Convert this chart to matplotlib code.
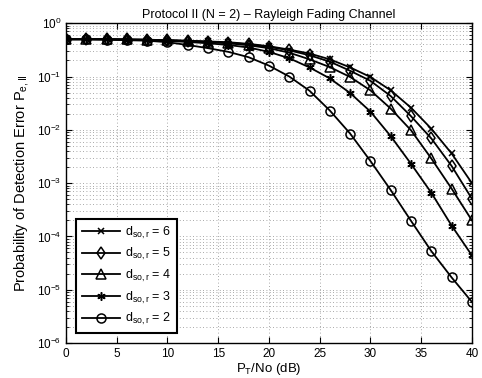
import numpy as np
import matplotlib
matplotlib.use('Agg')
import matplotlib.pyplot as plt
from matplotlib.ticker import LogLocator, NullFormatter

plt.rcParams['font.family'] = ['Liberation Sans', 'DejaVu Sans']
plt.rcParams['mathtext.fontset'] = 'custom'
plt.rcParams['mathtext.rm'] = 'Liberation Sans'
plt.rcParams['mathtext.it'] = 'Liberation Sans'

snr_db = np.arange(0, 41, 2)

pe_d6 = [0.5, 0.5, 0.5, 0.495, 0.49, 0.48, 0.47, 0.455, 0.44, 0.41, 0.37,
         0.32, 0.27, 0.21, 0.148, 0.098, 0.055, 0.026, 0.0105, 0.0036, 0.001]
pe_d5 = [0.5, 0.5, 0.5, 0.495, 0.49, 0.48, 0.465, 0.45, 0.43, 0.40, 0.36,
         0.31, 0.25, 0.19, 0.128, 0.083, 0.043, 0.018, 0.0069, 0.0021, 0.00051]
pe_d4 = [0.5, 0.5, 0.5, 0.495, 0.49, 0.475, 0.46, 0.44, 0.42, 0.385, 0.34,
         0.28, 0.21, 0.15, 0.098, 0.055, 0.025, 0.0098, 0.0029, 0.00079, 0.0002]
pe_d3 = [0.5, 0.5, 0.5, 0.49, 0.48, 0.465, 0.445, 0.42, 0.39, 0.35, 0.29,
         0.22, 0.148, 0.092, 0.049, 0.022, 0.0076, 0.0023, 0.00066, 0.00016, 4.4e-5]
pe_d2 = [0.5, 0.5, 0.49, 0.48, 0.47, 0.44, 0.39, 0.34, 0.29, 0.23, 0.16,
         0.10, 0.054, 0.023, 0.0085, 0.0026, 7.4e-4, 1.96e-4, 5.3e-5, 1.7e-5, 5.9e-6]

# (values, marker, marker size, distance label)
curves = [(pe_d6, 'x', 5, '6'), (pe_d5, 'd', 6, '5'), (pe_d4, '^', 7, '4'),
          (pe_d3, (6, 2, 0), 6, '3'), (pe_d2, 'o', 6.5, '2')]

fig = plt.figure(figsize=(4.82, 3.78), dpi=100)
ax = fig.add_axes([0.137, 0.0926, 0.842, 0.846])

for pe, mk, ms, d in curves:
    ax.semilogy(snr_db, pe, '-', color='k', marker=mk, markersize=ms,
                markerfacecolor='none', markeredgecolor='k', markeredgewidth=1.1,
                linewidth=1.3, label=r'd$_{\rm so,r}$ = ' + d)

ax.set_xlim(0, 40)
ax.set_ylim(1e-6, 1)
ax.set_xticks(np.arange(0, 41, 5))
ax.yaxis.set_major_locator(LogLocator(base=10, numticks=10))
ax.yaxis.set_minor_locator(LogLocator(base=10, subs=np.arange(2, 10), numticks=20))
ax.yaxis.set_minor_formatter(NullFormatter())
ax.grid(True, which='major', linestyle=(0, (1, 3)), color='0.55', linewidth=0.6)
ax.grid(True, which='minor', axis='y', linestyle=(0, (1, 3)), color='0.55', linewidth=0.6)
ax.tick_params(direction='in', which='both', top=True, right=True, labelsize=8.5)
ax.tick_params(which='major', length=4)
ax.tick_params(which='minor', length=2)
ax.xaxis.get_offset_text().set_visible(False)
ax.yaxis.get_offset_text().set_visible(False)
for s in ax.spines.values():
    s.set_linewidth(1.0)

ax.set_title('Protocol II (N = 2) \u2013 Rayleigh Fading Channel', fontsize=9, pad=4)
ax.set_xlabel(r'P$_{\rm T}$/No (dB)', fontsize=9.5, labelpad=1)
ax.set_ylabel(r'Probability of Detection Error P$_{\rm e,II}$', fontsize=10.5, labelpad=4)

leg = ax.legend(loc='lower left', fontsize=9, fancybox=False, framealpha=1,
                edgecolor='k', borderaxespad=0.8, handlelength=3.1,
                labelspacing=0.45, borderpad=0.45, handletextpad=0.4)
leg.get_frame().set_linewidth(1.5)

fig.savefig('out.png', dpi=100)
